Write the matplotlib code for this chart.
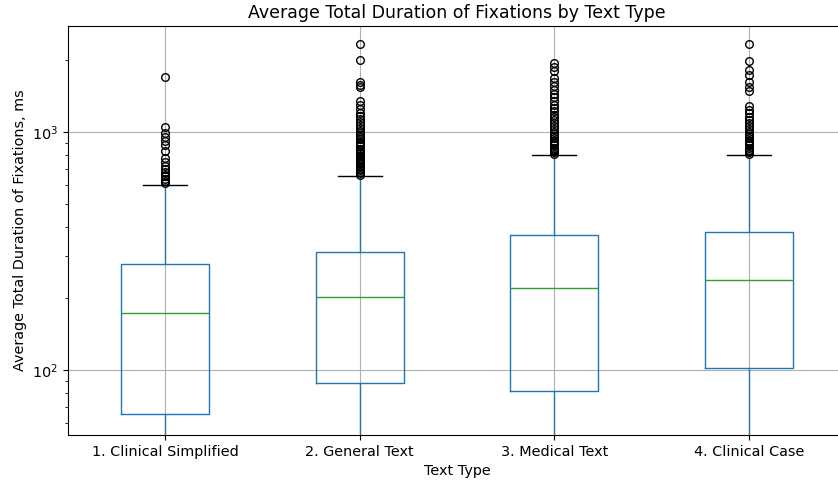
import matplotlib
matplotlib.use("Agg")
import matplotlib.pyplot as plt

categories = ["1. Clinical Simplified", "2. General Text", "3. Medical Text", "4. Clinical Case"]
q1 = [65.3, 88.2, 81.6, 102.0]
medians = [173.6, 202.6, 221.0, 239.0]
q3 = [278.6, 313.0, 369.0, 380.0]
whisker_low = [15.0, 12.0, 10.0, 20.0]
whisker_high = [600.0, 655.0, 800.0, 800.0]
fliers_1 = [1700, 1050, 990, 950, 920, 880, 830, 780, 750, 720, 700, 680, 660, 650, 635, 620, 610]
fliers_2 = [2350, 2000, 1620, 1580, 1540, 1350, 1300, 1250, 1200, 1170, 1130, 1100, 1070, 1040,
            1010, 990, 970, 950, 930, 910, 890, 870, 850, 830, 815, 800, 790, 780, 770, 760, 750,
            740, 730, 720, 710, 700, 690, 680, 670, 660]
fliers_3 = [1950, 1880, 1800, 1680, 1620, 1560, 1500, 1450, 1400, 1350, 1300, 1260, 1220, 1180,
            1150, 1120, 1090, 1060, 1030, 1000, 980, 960, 940, 920, 900, 880, 860, 850, 840,
            830, 820, 810]
fliers_4 = [2330, 1980, 1820, 1740, 1620, 1550, 1480, 1280, 1240, 1200, 1160, 1120, 1090, 1060,
            1030, 1000, 980, 960, 940, 920, 900, 880, 860, 840, 830, 820, 810]
fliers = [fliers_1, fliers_2, fliers_3, fliers_4]

stats = []
for i, name in enumerate(categories):
    stats.append(dict(label=name, q1=q1[i], med=medians[i], q3=q3[i],
                      whislo=whisker_low[i], whishi=whisker_high[i], fliers=fliers[i]))

fig = plt.figure(figsize=(8.38, 4.83), dpi=100)
ax = fig.add_axes([68 / 838, (483 - 435) / 483, 778 / 838, (435 - 26) / 483])
ax.bxp(stats, positions=[1, 2, 3, 4],
       boxprops=dict(color="C0"), whiskerprops=dict(color="C0"),
       medianprops=dict(color="C2"), capprops=dict(color="k"),
       flierprops=dict(marker="o", markersize=5.5, markerfacecolor="none", markeredgecolor="k"))
ax.set_yscale("log")
ax.set_ylim(53.3, 2786)
ax.set_xlim(0.5, 4.5)
ax.grid(True)
ax.set_axisbelow(True)
ax.tick_params(labelsize=10.4)
ax.set_title("Average Total Duration of Fixations by Text Type", fontsize=12.5)
ax.set_xlabel("Text Type", fontsize=10.4)
ax.set_ylabel("Average Total Duration of Fixations, ms", fontsize=10.4)
fig.savefig("out.png", dpi=100)
